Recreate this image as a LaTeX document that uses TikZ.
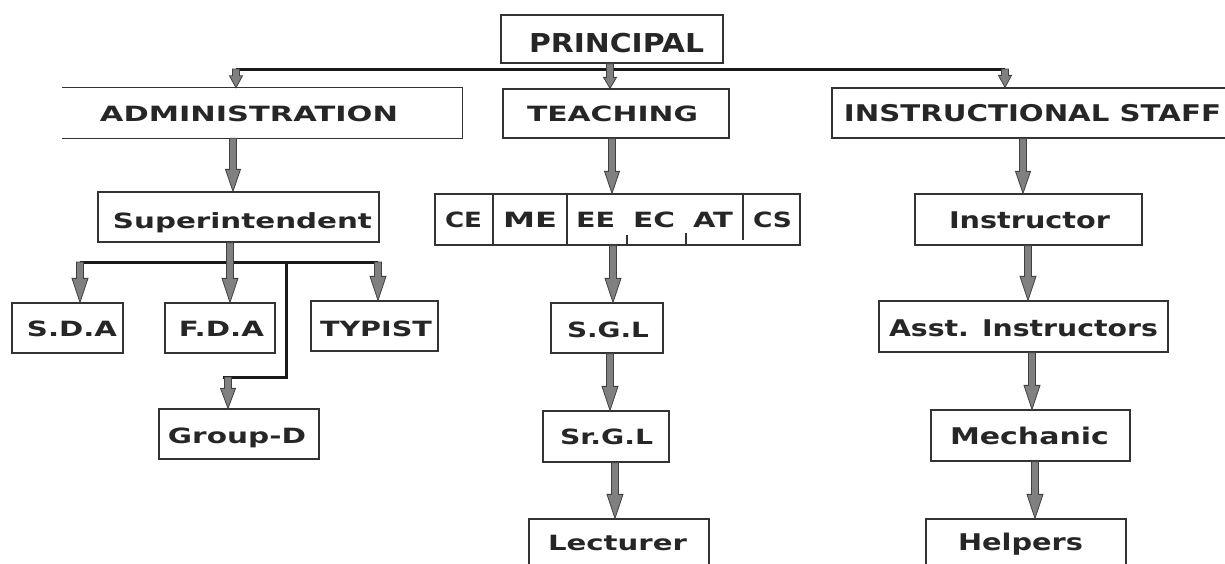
\documentclass[tikz,border=0pt]{standalone}
\usepackage{fontspec}
\setmainfont{DejaVu Sans}
\usetikzlibrary{calc}
\newcommand\tw[2]{\resizebox{#1pt}{\height}{#2}}
% #1 head length, #2 head half width, #3 x, #4 start coordinate, #5 end coordinate
\newcommand\barrow[5]{%
  \coordinate (bx) at (#3,0);
  \coordinate (bt) at (#4 -| bx);
  \coordinate (bb) at (#5 -| bx);
  \filldraw[arr] ($(bt)+(-3.5,0)$) -- ($(bb)+(-3.5,-#1)$) -- ($(bb)+(-#2,-#1)$) -- (bb)
     -- ($(bb)+(#2,-#1)$) -- ($(bb)+(3.5,-#1)$) -- ($(bt)+(3.5,0)$) -- cycle;}
\begin{document}
\begin{tikzpicture}[x=1pt,y=-1pt,
  box/.style={draw=black!80, line width=1.3pt, inner sep=0pt, rectangle},
  lbl/.style={inner sep=0pt, anchor=base, text=black!85, font=\bfseries\fontsize{21}{24}\selectfont},
  lblr/.style={lbl, font=\bfseries\fontsize{23}{26}\selectfont},
  arr/.style={fill=black!50, draw=black!75, line width=0.8pt, line join=miter},
  bar/.style={draw=black!90, line width=3pt}]
\useasboundingbox[fill=white] (0,0) rectangle (1225,563);
\clip (0,0) rectangle (1225,563);

% ---------- boxes ----------
\node[box, minimum width=222pt, minimum height=48pt] (principal) at (612,39) {};
\node[inner sep=0pt, minimum width=400pt, minimum height=50pt] (adm) at (262,113) {};
\draw[draw=black!80, line width=1.3pt] (adm.north west) -- (adm.north east) -- (adm.south east) -- (adm.south west);
\node[box, minimum width=226pt, minimum height=49pt] (teach) at (616,113.5) {};
\node[box, minimum width=428pt, minimum height=50pt] (instr) at (1046,113) {};

\node[box, minimum width=281pt, minimum height=50pt] (supt) at (238.5,217) {};
\node[box, minimum width=111pt, minimum height=50pt] (sda) at (67.5,328) {};
\node[box, minimum width=110pt, minimum height=50pt] (fda) at (220,328) {};
\node[box, minimum width=127pt, minimum height=50pt] (typist) at (374.5,326) {};
\node[box, minimum width=160pt, minimum height=50pt] (groupd) at (239,434) {};

\node[box, minimum width=365pt, minimum height=51pt] (dept) at (617.5,219.5) {};
\draw[draw=black!80, line width=1.3pt] (dept.north -| 493,0) -- (dept.south -| 493,0);
\draw[draw=black!80, line width=1.3pt] (dept.north -| 567,0) -- (dept.south -| 567,0);
\draw[draw=black!80, line width=1.3pt] (dept.north -| 743,0) -- (743,240);
\draw[draw=black!80, line width=1.3pt] (627,235) -- (dept.south -| 627,0);
\draw[draw=black!80, line width=1.3pt] (686,233) -- (dept.south -| 686,0);
\node[box, minimum width=112pt, minimum height=50pt] (sgl) at (607,328) {};
\node[box, minimum width=126pt, minimum height=51pt] (srgl) at (606,436.5) {};
\node[box, minimum width=180pt, minimum height=50pt] (lect) at (619,544) {};

\node[box, minimum width=227pt, minimum height=51pt] (instructor) at (1028.5,219.5) {};
\node[box, minimum width=289pt, minimum height=51pt] (asst) at (1023.5,326.5) {};
\node[box, minimum width=199pt, minimum height=51pt] (mech) at (1030.5,435.5) {};
\node[box, minimum width=200pt, minimum height=50pt] (helpers) at (1026,544) {};

% ---------- labels ----------
\node[lbl, font=\bfseries\fontsize{26}{28}\selectfont] (tprincipal) at (616.5,52) {\tw{175}{PRINCIPAL}};
\node[lbl] (tadm) at (249,121) {\tw{298}{ADMINISTRATION}};
\node[lbl] (tteach) at (612.5,121) {\tw{171}{TEACHING}};
\node[lblr] (tinstr) at (1032.5,121) {\tw{377}{INSTRUCTIONAL STAFF}};
\node[lbl] (tsupt) at (242.5,228) {\tw{259}{Superintendent}};
\node[lbl] (tsda) at (72,336) {\tw{90}{S.D.A}};
\node[lbl] (tfda) at (221.5,336) {\tw{85}{F.D.A}};
\node[lbl] (ttypist) at (376,336) {\tw{112}{TYPIST}};
\node[lbl] (tgroupd) at (237,443) {\tw{138}{Group-D}};
\node[lbl] (tce) at (463.5,227) {\tw{37}{CE}};
\node[lbl] (tme) at (530,227) {\tw{54}{ME}};
\node[lbl] (tee) at (595.5,227) {\tw{39}{EE}};
\node[lbl] (tec) at (654,227) {\tw{42}{EC}};
\node[lbl] (tat) at (713,227) {\tw{40}{AT}};
\node[lbl] (tcs) at (772.5,227) {\tw{39}{CS}};
\node[lbl] (tsgl) at (608,337) {\tw{82}{S.G.L}};
\node[lbl] (tsrgl) at (606.5,444) {\tw{93}{Sr.G.L}};
\node[lbl] (tlect) at (617.5,550) {\tw{139}{Lecturer}};
\node[lblr] (tinstructor) at (1029.5,228) {\tw{161}{Instructor}};
\node[lblr] (tasst) at (1023.5,336) {\tw{269}{Asst. Instructors}};
\node[lblr] (tmech) at (1029.5,444) {\tw{159}{Mechanic}};
\node[lblr] (thelpers) at (1020.5,550) {\tw{125}{Helpers}};

% ---------- connector lines ----------
\coordinate (barL) at (236,69);
\coordinate (barR) at (1005,69);
\draw[bar] (barL) -- (barR);
\coordinate (sbL) at (80,262);
\coordinate (sbR) at (378,262);
\coordinate (sbG) at (286,262);
\coordinate (gbend) at (286,377);
\coordinate (gend) at (223,377);
\draw[bar] (sbL) -- (sbR);
\draw[bar] (sbG) -- (gbend) -- (gend);

% ---------- arrows ----------
\barrow{11}{6.5}{610}{principal.south}{teach.north}
\barrow{12}{6.5}{236}{barL}{adm.north}
\barrow{12}{6.5}{1005}{barR}{instr.north}
\barrow{22}{7.5}{233}{adm.south}{supt.north}
\barrow{22}{7.5}{612}{teach.south}{dept.north}
\barrow{22}{7.5}{1023}{instr.south}{instructor.north}
\barrow{24}{8}{230}{supt.south}{fda.north}
\barrow{24}{8}{80}{sbL}{sda.north}
\barrow{24}{8}{378}{sbR}{typist.north}
\barrow{20}{7.5}{228}{gend}{groupd.north}
\barrow{24}{8}{613}{dept.south}{sgl.north}
\barrow{24}{8}{610}{sgl.south}{srgl.north}
\barrow{24}{8}{615}{srgl.south}{lect.north}
\barrow{24}{8}{1028}{instructor.south}{asst.north}
\barrow{24}{8}{1032}{asst.south}{mech.north}
\barrow{24}{8}{1035}{mech.south}{helpers.north}
\end{tikzpicture}
\end{document}
